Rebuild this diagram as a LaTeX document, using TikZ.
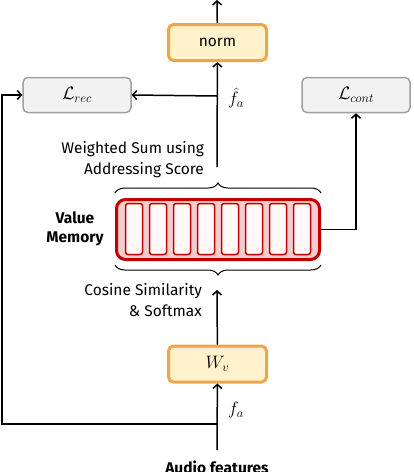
\RequirePackage{fix-cm}
\documentclass[tikz,border=0pt]{standalone}
\usepackage{fontspec}
\setmainfont{Fira Sans}
\usetikzlibrary{arrows.meta,decorations.pathreplacing}
\definecolor{opline}{HTML}{EDA64A}
\definecolor{opfill}{HTML}{FFF2CC}
\definecolor{memline}{HTML}{C00000}
\definecolor{memfill}{HTML}{F6CDCC}
\definecolor{cellfill}{HTML}{FFF8F8}
\definecolor{lossline}{HTML}{A0A0A0}
\definecolor{lossfill}{HTML}{F2F2F2}
\tikzset{
  opbox/.style={draw=opline,fill=opfill,line width=3pt,rounded corners=5pt,minimum width=98pt,minimum height=36pt},
  lossbox/.style={draw=lossline,fill=lossfill,line width=1.5pt,rounded corners=5pt,minimum width=108pt,minimum height=35pt},
  membox/.style={draw=memline,fill=memfill,line width=3pt,rounded corners=9pt,minimum width=203pt,minimum height=60pt},
  cellbox/.style={draw=memline,fill=cellfill,line width=1.5pt,rounded corners=2.5pt,minimum width=17pt,minimum height=51pt},
  mybrace/.style={decorate,decoration={brace,amplitude=10pt},line width=1pt},
  mathlbl/.style={font=\fontsize{18}{21}\selectfont}
}
\begin{document}
\begin{tikzpicture}[x=1pt,y=-1pt,>={Straight Barb[length=4pt,width=9pt]},line width=1.5pt,font=\fontsize{15.5}{21}\selectfont]
\useasboundingbox (0,0) rectangle (414,472);
% blocks
\node[opbox] (norm) at (217.5,42.5) {norm};
\node[lossbox,mathlbl] (rec) at (77,95) {$\mathcal{L}_{rec}$};
\node[lossbox,mathlbl] (cont) at (356,95) {$\mathcal{L}_{cont}$};
\node[membox] (mem) at (218,229.5) {};
\foreach \i in {0,...,7}
  \node[cellbox] (cell\i) at (134+24*\i,229) {};
\node[opbox,mathlbl] (wv) at (217.5,364) {$W_v$};
\node[font=\fontsize{15.5}{19}\selectfont\bfseries,align=center] (vm) at (75,229) {Value\\Memory};
\node[font=\fontsize{15.5}{19}\selectfont\bfseries,anchor=base] (audio) at (217,473) {Audio features};
% labels
\node[mathlbl] (fa) at (236,410) {$f_a$};
\node[mathlbl] (fhat) at (236,98) {$\hat{f}_a$};
\node[align=right,anchor=east] (wsum) at (208,160) {Weighted Sum using\\Addressing Score};
\node[align=right,anchor=east] (cos) at (206,300) {Cosine Similarity\\\& Softmax};
% braces
\draw[mybrace] (115,193) -- (321,193);
\draw[mybrace] (321,265) -- (115,265);
% connectors
\coordinate (in) at (217,450);
\coordinate (split) at (217,424);
\coordinate (simtip) at (217,290);
\coordinate (sumtop) at (217,167);
\coordinate (fork) at (217,96);
\coordinate (out) at (217,0);
\draw[->] (in) -- (wv);
\draw[->] (split) -- (2,424) |- (rec.west);
\draw[->] (wv) -- (simtip);
\draw[->] (sumtop) -- (norm);
\draw[->] (fork) -- (rec.east);
\draw[->] (norm) -- (out);
\draw[->] (mem.east) -| (cont.south);
\end{tikzpicture}
\end{document}
